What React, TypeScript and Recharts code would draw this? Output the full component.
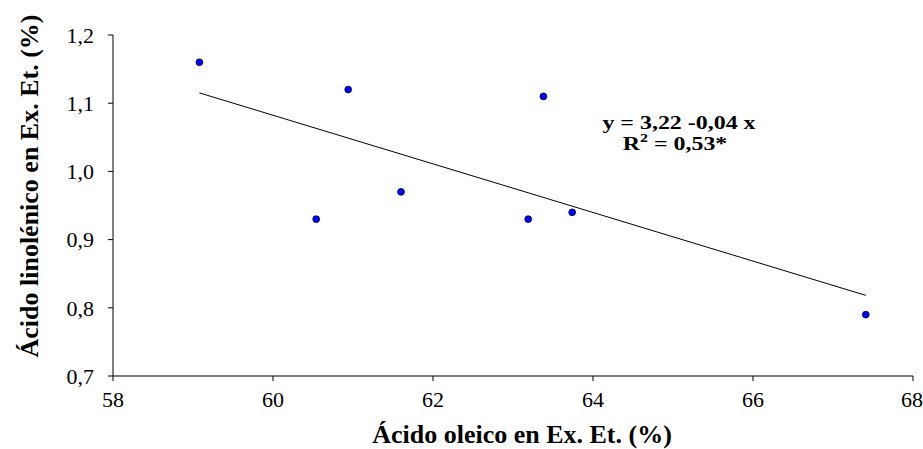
import React from "react";
import { ComposedChart, Scatter, Line, XAxis, YAxis, Customized } from "recharts";

// oleic acid (x) vs linolenic acid (y), both in % of ethereal extract
const oleico = [59.08, 60.54, 60.94, 61.6, 63.19, 63.38, 63.74, 67.41];
const linolenico = [1.16, 0.93, 1.12, 0.97, 0.93, 1.11, 0.94, 0.79];
const xTicks = [58, 60, 62, 64, 66, 68];
const yTicks = [0.7, 0.8, 0.9, 1.0, 1.1, 1.2];

const points = oleico.map((x, i) => ({ x, y: linolenico[i] }));

// least squares fit, drawn over the data range
const n = oleico.length;
const mx = oleico.reduce((a, b) => a + b, 0) / n;
const my = linolenico.reduce((a, b) => a + b, 0) / n;
let sxy = 0;
let sxx = 0;
oleico.forEach((x, i) => {
  sxy += (x - mx) * (linolenico[i] - my);
  sxx += (x - mx) * (x - mx);
});
const slope = sxy / sxx;
const intercept = my - slope * mx;
const xMin = Math.min(...oleico);
const xMax = Math.max(...oleico);
const trend = [
  { x: xMin, y: intercept + slope * xMin },
  { x: xMax, y: intercept + slope * xMax },
];

const FONT = '"Liberation Serif", "Times New Roman", serif';
const tickStyle = { fill: "#000", fontSize: 22, fontFamily: FONT };

const Annotations = () => (
  <g fontFamily={FONT} fill="#000">
    {/* the equation text is stretched sideways in the original */}
    <g transform="translate(679,129) scale(1.33,1)">
      <text x={0} y={0} textAnchor="middle" fontSize={18} fontWeight="bold">
        y = 3,22 -0,04 x
      </text>
    </g>
    <g transform="translate(675,150) scale(1.33,1)">
      <text x={0} y={0} textAnchor="middle" fontSize={18} fontWeight="bold">
        R<tspan dy={-8} fontSize={12}>2</tspan>
        <tspan dy={8}> = 0,53*</tspan>
      </text>
    </g>
    <text x={522} y={443} textAnchor="middle" fontSize={26} fontWeight="bold">
      Ácido oleico en Ex. Et. (%)
    </text>
    <text
      x={0}
      y={0}
      transform="translate(38,186) rotate(-90)"
      textAnchor="middle"
      fontSize={26}
      fontWeight="bold"
    >
      Ácido linolénico en Ex. Et. (%)
    </text>
  </g>
);

export default function App() {
  return (
    <div style={{ position: "absolute", left: 0, top: 0, background: "#fff" }}>
      <ComposedChart width={923} height={449} margin={{ top: 35, right: 10, left: 53, bottom: 33 }}>
        <XAxis
          type="number"
          dataKey="x"
          domain={[58, 68]}
          ticks={xTicks}
          allowDataOverflow
          stroke="#000"
          tickLine={{ stroke: "#000" }}
          tickSize={5}
          tickMargin={10}
          tick={tickStyle}
          height={40}
        />
        <YAxis
          type="number"
          dataKey="y"
          domain={[0.7, 1.2]}
          ticks={yTicks}
          allowDataOverflow
          stroke="#000"
          tickLine={{ stroke: "#000" }}
          tickSize={5}
          tickMargin={14}
          tick={tickStyle}
          tickFormatter={(v: number) => v.toFixed(1).replace(".", ",")}
          width={60}
        />
        <Line
          data={trend}
          dataKey="y"
          type="linear"
          stroke="#000"
          strokeWidth={1}
          dot={false}
          activeDot={false}
          isAnimationActive={false}
        />
        <Scatter
          data={points}
          dataKey="y"
          fill="#0000ff"
          shape={(props: any) => (
            <circle cx={props.cx} cy={props.cy} r={3.4} fill="#0000ff" stroke="#000033" strokeWidth={0.8} />
          )}
          isAnimationActive={false}
        />
        <Customized component={Annotations} />
      </ComposedChart>
    </div>
  );
}
